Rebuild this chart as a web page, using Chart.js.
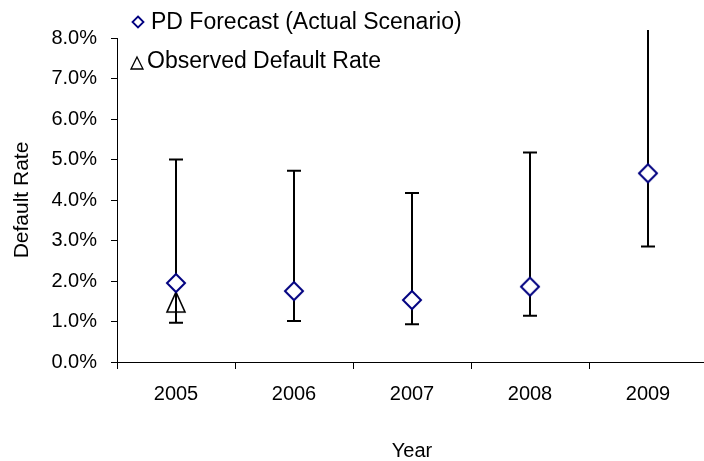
<!DOCTYPE html>
<html>
<head>
<meta charset="utf-8">
<script src="https://cdn.jsdelivr.net/npm/chart.js@4/dist/chart.umd.min.js"></script>
<style>
  html, body { margin: 0; padding: 0; background: #ffffff; }
  #wrap { width: 704px; height: 461px; }
</style>
</head>
<body>
<div id="wrap"><canvas id="chart" width="704" height="461"></canvas></div>
<script>
// Years on the horizontal axis
const years = ['2005', '2006', '2007', '2008', '2009'];
// Point forecast of the default rate (%)
const pdForecast = [1.95, 1.75, 1.53, 1.86, 4.66];
// Lower and upper ends of the forecast interval (%)
const pdLower = [0.97, 1.01, 0.93, 1.14, 2.85];
const pdUpper = [5.00, 4.72, 4.17, 5.17, 8.90];
// Realised default rate, only known for the first year (%)
const observed = [1.48, null, null, null, null];
// Value-axis range and step (%)
const yMin = 0, yMax = 8, yStep = 1;

const FONT = '"Liberation Sans", Arial, Helvetica, sans-serif';
const NAVY = '#000080';

// Marker images: white-filled navy diamond and open black triangle
function diamondImage(half, lw) {
  const s = Math.ceil(half * 2 + lw + 2);
  const c = document.createElement('canvas');
  c.width = s; c.height = s;
  const g = c.getContext('2d');
  const m = s / 2;
  g.beginPath();
  g.moveTo(m, m - half); g.lineTo(m + half, m); g.lineTo(m, m + half); g.lineTo(m - half, m);
  g.closePath();
  g.fillStyle = '#ffffff'; g.fill();
  g.lineWidth = lw; g.strokeStyle = NAVY; g.stroke();
  return c;
}
function triangleImage(w, h, lw) {
  const cw = Math.ceil(w + lw + 2), ch = Math.ceil(h + lw + 2);
  const c = document.createElement('canvas');
  c.width = cw; c.height = ch;
  const g = c.getContext('2d');
  const mx = cw / 2, my = ch / 2;
  g.beginPath();
  g.moveTo(mx, my - h / 2); g.lineTo(mx + w / 2, my + h / 2); g.lineTo(mx - w / 2, my + h / 2);
  g.closePath();
  g.lineWidth = lw; g.strokeStyle = '#000000'; g.stroke();
  return c;
}
const diamondMarker = diamondImage(9, 2);
const triangleMarker = triangleImage(18, 20, 1.6);

// The category axis runs a few pixels past the right edge of the canvas
const widenPlot = {
  id: 'widenPlot',
  afterLayout(chart) {
    const x = chart.scales.x;
    const right = 707;
    chart.chartArea.right = right;
    chart.chartArea.width = right - chart.chartArea.left;
    x.right = right;
    x.width = right - x.left;
    x.configure();
  }
};

// Whiskers for the forecast interval, drawn beneath the markers
const errorBars = {
  id: 'errorBars',
  beforeDatasetsDraw(chart) {
    const { ctx, chartArea, scales: { x, y } } = chart;
    ctx.save();
    ctx.beginPath();
    ctx.rect(chartArea.left, chartArea.top - 8, chartArea.right - chartArea.left, chartArea.bottom - chartArea.top + 16);
    ctx.clip();
    ctx.strokeStyle = '#000000';
    ctx.lineWidth = 2;
    const cap = 7;
    years.forEach((yr, i) => {
      const px = Math.round(x.getPixelForValue(i));
      const yl = y.getPixelForValue(pdLower[i]);
      const yh = y.getPixelForValue(pdUpper[i]);
      ctx.beginPath();
      ctx.moveTo(px, yl); ctx.lineTo(px, yh);
      ctx.moveTo(px - cap, yl); ctx.lineTo(px + cap, yl);
      if (pdUpper[i] <= yMax) { ctx.moveTo(px - cap, yh); ctx.lineTo(px + cap, yh); }
      ctx.stroke();
    });
    ctx.restore();
  }
};

// Two-line key in the top-left corner of the plot
const keyBox = {
  id: 'keyBox',
  afterDraw(chart) {
    const ctx = chart.ctx;
    ctx.save();
    ctx.font = '23px ' + FONT;
    ctx.fillStyle = '#000000';
    ctx.textBaseline = 'middle';
    ctx.textAlign = 'left';
    // diamond entry
    const dx = 138, dy = 22, dh = 5.5;
    ctx.beginPath();
    ctx.moveTo(dx, dy - dh); ctx.lineTo(dx + dh, dy); ctx.lineTo(dx, dy + dh); ctx.lineTo(dx - dh, dy);
    ctx.closePath();
    ctx.fillStyle = '#ffffff'; ctx.fill();
    ctx.lineWidth = 1.8; ctx.strokeStyle = NAVY; ctx.stroke();
    ctx.fillStyle = '#000000';
    ctx.fillText(chart.data.datasets[0].label, 151, 23);
    // triangle entry
    const tx = 137, ty = 63;
    ctx.beginPath();
    ctx.moveTo(tx, ty - 6); ctx.lineTo(tx + 6, ty + 6); ctx.lineTo(tx - 6, ty + 6);
    ctx.closePath();
    ctx.lineWidth = 1.3; ctx.strokeStyle = '#000000'; ctx.stroke();
    ctx.fillText(chart.data.datasets[1].label, 147, 62);
    ctx.restore();
  }
};

new Chart(document.getElementById('chart'), {
  type: 'line',
  data: {
    labels: years,
    datasets: [
      {
        label: 'PD Forecast (Actual Scenario)',
        data: pdForecast,
        showLine: false,
        pointStyle: diamondMarker,
        pointRadius: 9
      },
      {
        label: 'Observed Default Rate',
        data: observed,
        showLine: false,
        pointStyle: triangleMarker,
        pointRadius: 10
      }
    ]
  },
  options: {
    responsive: false,
    animation: false,
    devicePixelRatio: 1,
    layout: { autoPadding: false, padding: { top: 38, right: 0, left: 0, bottom: 0 } },
    plugins: { legend: { display: false }, tooltip: { enabled: false } },
    scales: {
      x: {
        type: 'category',
        offset: true,
        grid: { offset: true, drawOnChartArea: false, color: '#000000', tickLength: 7, lineWidth: 1 },
        border: { color: '#000000', width: 1 },
        ticks: { color: '#000000', font: { family: FONT, size: 20 }, padding: 13, maxRotation: 0 },
        title: { display: true, text: 'Year', color: '#000000', font: { family: FONT, size: 20 }, padding: { top: 0, bottom: -2 } },
        afterFit(scale) { scale.height = 99; }
      },
      y: {
        min: yMin,
        max: yMax,
        grid: { drawOnChartArea: false, color: '#000000', tickLength: 6, lineWidth: 1 },
        border: { color: '#000000', width: 1 },
        ticks: {
          stepSize: yStep,
          color: '#000000',
          font: { family: FONT, size: 20 },
          padding: 14,
          callback: v => v.toFixed(1) + '%'
        },
        title: { display: true, text: 'Default Rate', color: '#000000', font: { family: FONT, size: 21 }, padding: { top: 10, bottom: 0 } },
        afterFit(scale) { scale.width = 117; }
      }
    }
  },
  plugins: [widenPlot, errorBars, keyBox]
});
</script>
</body>
</html>
